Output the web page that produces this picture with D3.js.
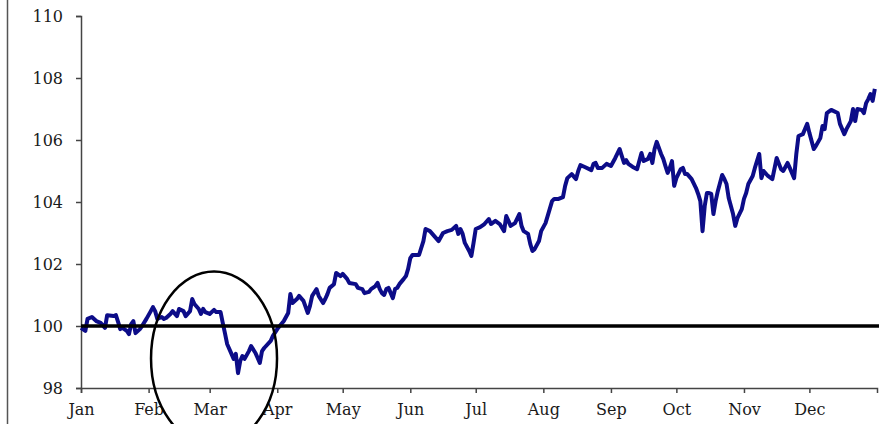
<!DOCTYPE html>
<html lang="en">
<head>
  <meta charset="utf-8">
  <title>Index, 1 Jan = 100</title>
<style>

body {
	margin: 0;
	background: #fff;
}

.axis path,
.axis line {
	fill: none;
	stroke: #444;
	stroke-width: 1.5px;
}

.axis text {
	font-family: 'DejaVu Serif', serif;
	font-size: 16px;
	fill: #1a1a1a;
}

</style>
</head>
<body>
	<svg width="886" height="424"></svg>

	<script src="https://cdn.jsdelivr.net/npm/d3@7/dist/d3.min.js"></script>
	<script>

	// month labels along the bottom, y ticks on the left
	var months = ["Jan","Feb","Mar","Apr","May","Jun","Jul","Aug","Sep","Oct","Nov","Dec"];
	var yTicks = [98, 100, 102, 104, 106, 108, 110];
	var baseline = 100;

	// index level (day of year, value)
	var dayOfYear = [
		0,2,3,5,7,9,11,12,15,16,17,18,19,21,22,23,24,25,27,28,
		30,32,33,34,35,37,38,39,41,42,44,45,47,48,50,51,52,54,55,56,
		57,59,61,62,64,65,66,67,69,70,71,72,73,74,75,77,78,80,82,83,
		84,87,88,90,93,95,96,97,99,100,102,104,105,106,108,109,111,112,113,114,
		116,117,119,120,122,123,126,127,129,130,132,133,135,136,137,138,139,140,141,143,
		144,145,146,148,149,150,151,152,155,157,158,160,162,164,166,168,170,172,173,174,
		175,176,178,179,180,181,183,185,187,188,190,192,194,195,196,197,199,201,202,203,
		205,206,207,208,210,211,213,214,216,217,219,221,222,223,225,227,228,229,231,234,
		235,236,237,239,241,243,245,247,248,249,250,251,253,255,256,257,258,260,261,262,
		263,264,266,267,268,269,270,271,272,273,275,276,277,278,280,282,283,284,285,286,
		287,288,289,290,291,292,294,295,296,297,299,300,301,303,304,305,306,308,309,311,
		312,313,315,317,319,321,322,324,325,327,328,329,331,333,334,336,337,339,340,341,
		342,344,347,348,350,351,353,354,355,356,358,359,360,361,362,363,364
	];

	var indexValue = [
		99.94,99.84,100.23,100.29,100.16,100.10,99.94,100.35,100.32,100.35,100.13,99.90,99.94,99.84,99.74,100.06,100.16,99.77,99.90,100.00,
		100.23,100.48,100.61,100.48,100.23,100.29,100.23,100.26,100.39,100.48,100.32,100.55,100.48,100.32,100.48,100.87,100.71,100.55,100.39,100.55,
		100.45,100.39,100.52,100.45,100.45,100.10,99.77,99.42,99.10,98.94,99.10,98.48,98.87,99.03,98.94,99.19,99.35,99.13,98.81,99.19,
		99.29,99.52,99.68,99.90,100.16,100.42,101.03,100.74,100.87,100.97,100.81,100.42,100.65,100.97,101.19,100.97,100.74,100.87,101.03,101.23,
		101.35,101.71,101.61,101.68,101.52,101.39,101.35,101.23,101.19,101.06,101.10,101.19,101.29,101.39,101.19,101.06,101.00,101.19,101.23,100.90,
		101.19,101.23,101.35,101.52,101.61,101.84,102.19,102.29,102.29,102.74,103.13,103.06,102.90,102.74,103.00,103.06,103.10,103.23,102.97,103.13,
		102.97,102.68,102.42,102.26,102.68,103.13,103.19,103.29,103.45,103.29,103.39,103.29,103.06,103.55,103.39,103.23,103.32,103.61,103.23,103.06,
		102.97,102.65,102.42,102.48,102.74,103.06,103.32,103.55,104.03,104.10,104.10,104.16,104.52,104.77,104.90,104.74,105.00,105.19,105.13,105.03,
		105.23,105.26,105.10,105.10,105.23,105.16,105.42,105.71,105.48,105.26,105.35,105.23,105.13,105.06,105.32,105.58,105.32,105.39,105.55,105.26,
		105.71,105.94,105.55,105.39,105.16,104.94,105.10,105.32,104.52,104.77,105.06,105.10,104.90,104.90,104.74,104.45,104.26,104.03,103.06,103.87,
		104.29,104.29,104.26,103.61,104.03,104.35,104.87,104.74,104.58,104.13,103.61,103.23,103.48,103.77,104.10,104.29,104.58,104.84,105.10,105.55,
		104.77,105.00,104.84,104.74,105.42,105.06,105.00,105.26,105.10,104.77,105.55,106.13,106.19,106.52,106.23,105.71,105.81,106.06,106.45,106.35,
		106.87,106.97,106.87,106.52,106.19,106.35,106.61,107.00,106.61,107.00,106.97,106.87,107.19,107.32,107.48,107.26,107.65
	];

	var yearStart = new Date(2019, 0, 1);
	var yearEnd = new Date(2020, 0, 1);

	var series = dayOfYear.map(function(d, i) {
		return { date: d3.timeDay.offset(yearStart, d), value: indexValue[i] };
	});

	var svg = d3.select("svg"),
		margin = {top: 16, right: 9, bottom: 36, left: 81};

	var width = +svg.attr("width") - margin.left - margin.right,
		height = +svg.attr("height") - margin.top - margin.bottom;

	var x = d3.scaleTime()
		.domain([yearStart, yearEnd])
		.range([0, width]);

	var y = d3.scaleLinear()
		.domain([98, 110])
		.range([height, 0]);

	// thin frame line on the far left of the original
	svg.append("line")
		.attr("x1", 7.5).attr("x2", 7.5)
		.attr("y1", 0).attr("y2", 424)
		.attr("stroke", "#555")
		.attr("stroke-width", 1.5);

	var g = svg.append("g")
		.attr("transform", "translate(" + margin.left + "," + margin.top + ")");

	g.append("g")
		.attr("class", "axis axis--y")
		.call(d3.axisLeft(y)
			.tickValues(yTicks)
			.tickSize(5)
			.tickPadding(13)
			.tickFormat(d3.format("d")));

	var monthStarts = d3.timeMonths(yearStart, yearEnd);

	g.append("g")
		.attr("class", "axis axis--x")
		.attr("transform", "translate(0," + height + ")")
		.call(d3.axisBottom(x)
			.tickValues(monthStarts)
			.tickSize(5)
			.tickPadding(11)
			.tickFormat(function(d) { return months[d.getMonth()]; }));

	var line = d3.line()
		.x(function(d) { return x(d.date); })
		.y(function(d) { return y(d.value); });

	g.append("path")
		.datum(series)
		.attr("fill", "none")
		.attr("stroke", "#0c0c88")
		.attr("stroke-width", 4)
		.attr("stroke-linejoin", "round")
		.attr("d", line);

	// 100 reference line
	g.append("line")
		.attr("x1", 0)
		.attr("x2", x(yearEnd) + 2)
		.attr("y1", y(baseline))
		.attr("y2", y(baseline))
		.attr("stroke", "#000")
		.attr("stroke-width", 3.5);

	// circled March dip
	g.append("ellipse")
		.attr("cx", x(d3.timeDay.offset(yearStart, 61)))
		.attr("cy", y(98.95))
		.attr("rx", 63)
		.attr("ry", 87)
		.attr("fill", "none")
		.attr("stroke", "#000")
		.attr("stroke-width", 2.5);

	</script>
</body>
</html>
